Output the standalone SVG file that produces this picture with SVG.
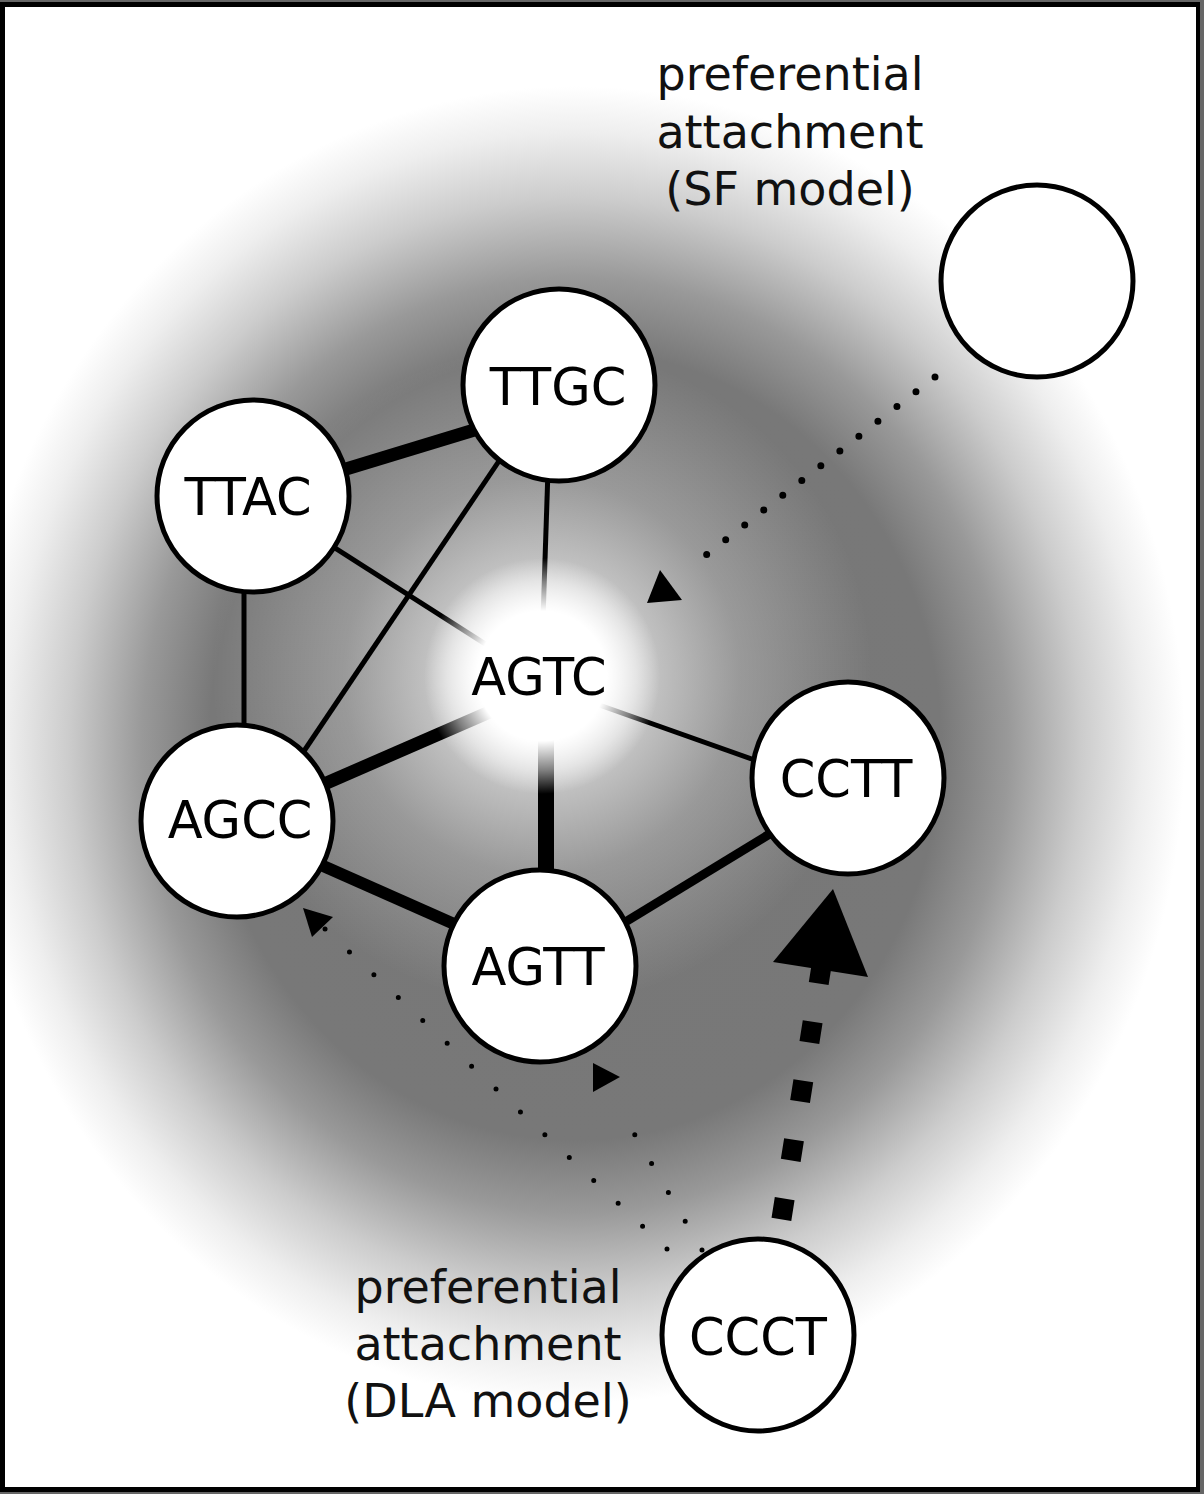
<svg xmlns="http://www.w3.org/2000/svg" width="1204" height="1494" viewBox="0 0 1204 1494">
<style>
.node{fill:#fff;stroke:#000;stroke-width:5}
.lbl{font-family:"DejaVu Sans","Liberation Sans",sans-serif;font-size:51px;text-anchor:middle;fill:#000}
.note{font-family:"DejaVu Sans","Liberation Sans",sans-serif;font-size:46px;text-anchor:middle;fill:#111}
.edge{stroke:#000;fill:none;stroke-linecap:butt}
.dots{stroke:#000;fill:none;stroke-linecap:round}
.head{fill:#000}
</style>
<defs>
<radialGradient id="bg" gradientUnits="userSpaceOnUse" cx="575" cy="745" r="610" gradientTransform="translate(575 745) scale(1 1.08) translate(-575 -745)">
<stop offset="0" stop-color="#777"/>
<stop offset="0.6" stop-color="#787878"/>
<stop offset="0.71" stop-color="#999"/>
<stop offset="0.83" stop-color="#ccc"/>
<stop offset="0.93" stop-color="#eee"/>
<stop offset="1" stop-color="#fff"/>
</radialGradient>
<radialGradient id="softglow" gradientUnits="userSpaceOnUse" cx="542" cy="676" r="330">
<stop offset="0" stop-color="#fff" stop-opacity="0.95"/>
<stop offset="0.3" stop-color="#fff" stop-opacity="0.6"/>
<stop offset="0.6" stop-color="#fff" stop-opacity="0.25"/>
<stop offset="1" stop-color="#fff" stop-opacity="0"/>
</radialGradient>
<radialGradient id="glow" gradientUnits="userSpaceOnUse" cx="542" cy="676" r="118">
<stop offset="0" stop-color="#fff" stop-opacity="1"/>
<stop offset="0.55" stop-color="#fff" stop-opacity="1"/>
<stop offset="0.8" stop-color="#fff" stop-opacity="0.5"/>
<stop offset="1" stop-color="#fff" stop-opacity="0"/>
</radialGradient>
</defs>
<rect x="0" y="0" width="1204" height="1494" fill="#666"/>
<rect x="0" y="2" width="1200" height="1490" fill="#000"/>
<rect x="5" y="7" width="1191" height="1480" fill="url(#bg)"/>
<circle cx="542" cy="676" r="330" fill="url(#softglow)"/>

<g id="connectors">
<line class="edge" x1="300" y1="483" x2="540" y2="410" stroke-width="13"/>
<line class="edge" x1="252" y1="495" x2="540" y2="679" stroke-width="5"/>
<line class="edge" x1="244" y1="520" x2="244" y2="800" stroke-width="5"/>
<line class="edge" x1="540" y1="400" x2="300" y2="757" stroke-width="5"/>
<line class="edge" x1="549" y1="440" x2="541" y2="680" stroke-width="5"/>
<line class="edge" x1="260" y1="812" x2="540" y2="690" stroke-width="13"/>
<line class="edge" x1="546" y1="680" x2="546" y2="960" stroke-width="16"/>
<line class="edge" x1="540" y1="684" x2="845" y2="792" stroke-width="5"/>
<line class="edge" x1="260" y1="838" x2="540" y2="962" stroke-width="12"/>
<line class="edge" x1="540" y1="974" x2="845" y2="788" stroke-width="9"/>
</g>

<g id="AGTC">
<circle cx="542" cy="676" r="118" fill="url(#glow)"/>
<text class="lbl" x="539" y="695">AGTC</text>
</g>

<g id="arrows">
<path class="dots" d="M935 377 L688 569" stroke-width="7" stroke-dasharray="0 24.1"/>
<polygon class="head" points="647,603 660,570 682,600"/>
<path class="dots" d="M667 1249 L325 929" stroke-width="5" stroke-dasharray="0 33.45"/>
<polygon class="head" points="303,908 333,917 312,937"/>
<path class="dots" d="M702 1250 L618 1106" stroke-width="5" stroke-dasharray="0 33.35"/>
<polygon class="head" points="593,1063 593,1092 620,1077"/>
<path d="M781.4 1219.4 L822 962.7" stroke="#000" stroke-width="20" fill="none" stroke-dasharray="21 38.7"/>
<polygon class="head" points="833,889 773,962 868,977"/>
</g>

<g id="TTGC">
<circle class="node" cx="559" cy="385" r="96"/>
<text class="lbl" x="558" y="405">TTGC</text>
</g>
<g id="TTAC">
<circle class="node" cx="253" cy="496" r="96"/>
<text class="lbl" x="248" y="515">TTAC</text>
</g>
<g id="AGCC">
<circle class="node" cx="237" cy="821" r="96"/>
<text class="lbl" x="240" y="838">AGCC</text>
</g>
<g id="AGTT">
<circle class="node" cx="540" cy="966" r="96"/>
<text class="lbl" x="538" y="985">AGTT</text>
</g>
<g id="CCTT">
<circle class="node" cx="848" cy="778" r="96"/>
<text class="lbl" x="846" y="797">CCTT</text>
</g>
<g id="CCCT">
<circle class="node" cx="758" cy="1335" r="96"/>
<text class="lbl" x="758" y="1355">CCCT</text>
</g>
<g id="SFnode">
<circle class="node" cx="1037" cy="281" r="96"/>
</g>
<g id="SFlabel">
<text class="note" x="790" y="90">preferential</text>
<text class="note" x="790" y="148">attachment</text>
<text class="note" x="790" y="205">(SF model)</text>
</g>
<g id="DLAlabel">
<text class="note" x="488" y="1303">preferential</text>
<text class="note" x="488" y="1360">attachment</text>
<text class="note" x="488" y="1417">(DLA model)</text>
</g>
</svg>
